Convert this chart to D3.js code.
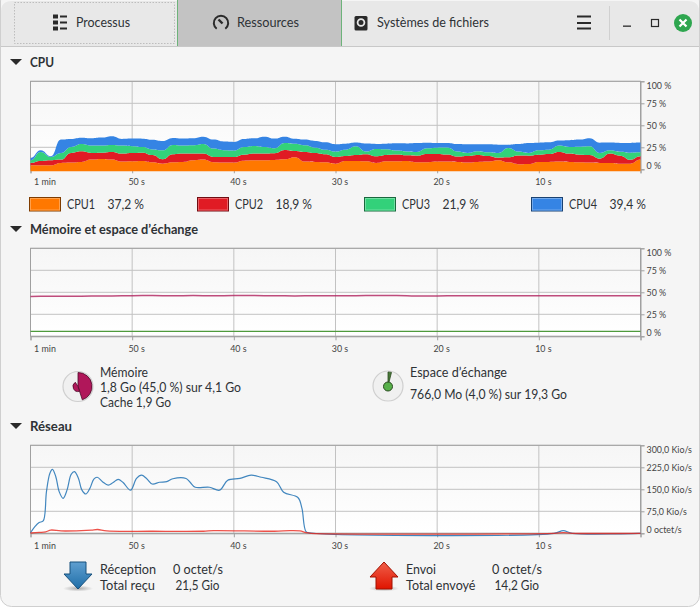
<!DOCTYPE html>
<html>
<head>
<meta charset="utf-8">
<script src="https://cdn.jsdelivr.net/npm/d3@7"></script>
<style>
html, body { margin: 0; padding: 0; background: #fff; }
svg { display: block; }
text { font-family: Lato, "Noto Sans", sans-serif; font-size: 13px; fill: #2e3236; }
.head { font-weight: 700; }
.tick text { font-size: 8.9px; fill: #444; }
</style>
</head>
<body>
<svg id="chart" width="700" height="607"></svg>
<script>
// seconds elapsed since the left edge, one CPU sample per second
var cpuTimes = d3.range(0, 61);
var cpuNames = ["CPU1", "CPU2", "CPU3", "CPU4"];
var cpuPercent = ["37,2 %", "18,9 %", "21,9 %", "39,4 %"];
var cpuColors = ["#ff7800", "#e01b24", "#33d17a", "#3584e4"];
var cpuBorders = ["#7f3c00", "#700d12", "#19683d", "#1a4272"];
var cpuInner = ["#ffa14d", "#ea6066", "#70dfa2", "#72a9ec"];

var cpu1 = [6.8,6.8,6.8,9.5,9.9,10.6,13.3,14.0,13.3,11.0,11.4,11.7,10.2,8.7,10.2,10.6,12.5,13.3,10.2,9.9,9.9,
  12.1,12.5,12.5,12.9,13.6,15.9,11.0,10.6,10.2,8.7,11.7,11.7,11.4,9.5,11.4,11.4,11.7,10.2,10.2,11.0,
  11.0,10.6,9.9,10.6,11.0,12.5,10.2,8.0,8.3,10.6,10.6,11.0,10.6,10.2,9.9,9.5,9.5,8.7,8.7,13.3];
var cpu2 = [2.7,4.9,5.7,3.8,11.0,12.1,7.6,7.2,8.7,9.1,9.5,9.5,8.3,4.9,9.1,9.5,7.6,6.8,6.1,6.4,6.4,
  6.8,7.6,7.6,7.6,10.6,7.2,11.0,10.2,9.1,7.6,5.7,6.8,8.0,7.6,7.2,7.6,6.4,7.6,9.5,8.7,
  8.0,6.1,7.6,8.0,6.4,3.0,5.7,9.9,9.5,8.3,9.1,11.0,9.5,8.7,8.7,4.9,10.6,9.1,4.5,3.8];
var cpu3 = [3.0,10.2,3.8,7.6,6.8,8.3,8.3,8.0,8.0,9.1,7.6,6.4,6.4,10.2,10.6,9.1,9.5,11.0,9.5,7.6,7.2,
  8.7,8.7,7.6,5.7,8.0,8.3,7.6,6.1,5.3,6.1,7.2,9.9,3.0,8.3,6.4,4.5,4.5,4.2,6.4,7.2,
  8.0,5.7,3.4,4.2,4.2,5.3,10.6,4.5,3.0,4.9,4.9,7.2,7.6,9.1,9.9,6.4,3.8,4.5,8.0,4.5];
var cpu4 = [2.7,1.9,0.8,15.2,9.1,7.2,8.3,9.1,9.9,7.6,8.7,9.5,11.0,10.6,8.0,8.0,8.0,8.3,10.2,9.9,9.9,
  9.1,8.7,11.7,11.0,7.2,5.7,6.4,7.6,8.3,8.3,6.8,4.2,9.1,5.7,6.4,8.3,9.1,10.2,6.4,5.3,
  5.3,8.7,9.9,8.0,9.1,9.5,3.8,8.7,11.4,8.7,8.3,5.7,7.6,8.0,9.1,11.7,8.7,9.9,11.0,11.0];

// memory and swap, %
var memTimes = d3.range(0, 61, 2);
var memValues = [45.3,45.5,45.6,45.7,45.9,46.2,46.3,46.1,46.3,46.0,46.3,46.4,46.0,45.9,46.0,46.1,
  46.2,46.3,46.3,45.9,45.9,46.0,46.0,46.0,46.1,46.1,46.0,46.0,46.1,46.0,46.0];
var swapTimes = [0, 60];
var swapValues = [5.6, 5.6];

// network, Kio/s
var rxTimes = [0,.43,.85,1.25,1.57,1.9,2.16,2.49,2.82,3.21,3.6,4,4.33,4.72,5.05,5.44,5.84,6.23,6.56,7.08,7.64,8.13,8.62,9.11,9.84,
  10.43,10.92,11.41,11.97,12.7,13.4,14,15.3,15.7,16.2,17.6,18.6,19.4,20.6,21.7,22.7,24.2,24.9,26.3,26.7,27.1,27.6,51.5,52.4,53.3,60];
var rxValues = [2,23,37,42,142,204,218,193,142,119,148,201,210,187,148,134,153,185,191,176,164,173,184,173,147,
  187,198,187,168,174,176,186,187,174,157,157,147,181,187,198,191,176,140,122,85,6,1,0,9,0,0];
var txTimes = [0,.85,1.5,2,3,5,6,6.6,7.5,12,17,18,24,25.5,26.5,27.1,27.6,51.5,52.4,53.3,60];
var txValues = [1,3,5,11,8,9,11,13,8,7,7,9,7,9,8,2,0,0,2,0,0];

var timeTicks = [60, 50, 40, 30, 20, 10, 0];
var timeLabels = ["1 min", "50 s", "40 s", "30 s", "20 s", "10 s", ""];
var pctTicks = [100, 75, 50, 25, 0];
var pctLabels = ["100 %", "75 %", "50 %", "25 %", "0 %"];
var netTicks = [300, 225, 150, 75, 0];
var netLabels = ["300,0 Kio/s", "225,0 Kio/s", "150,0 Kio/s", "75,0 Kio/s", "0 octet/s"];

var svg = d3.select("#chart");
var defs = svg.append("defs");

var grad = defs.append("linearGradient").attr("id", "plotBg").attr("x1", 0).attr("y1", 0).attr("x2", 0).attr("y2", 1);
grad.append("stop").attr("offset", "0%").attr("stop-color", "#f6f6f6");
grad.append("stop").attr("offset", "100%").attr("stop-color", "#ffffff");

var blueGrad = defs.append("linearGradient").attr("id", "blueArrow").attr("x1", 0).attr("y1", 0).attr("x2", 0).attr("y2", 1);
blueGrad.append("stop").attr("offset", "0%").attr("stop-color", "#5f9fd0");
blueGrad.append("stop").attr("offset", "100%").attr("stop-color", "#1f6ea8");
var redGrad = defs.append("linearGradient").attr("id", "redArrow").attr("x1", 0).attr("y1", 0).attr("x2", 0).attr("y2", 1);
redGrad.append("stop").attr("offset", "0%").attr("stop-color", "#f0604a");
redGrad.append("stop").attr("offset", "100%").attr("stop-color", "#e01400");
var shadow = defs.append("radialGradient").attr("id", "arrowShadow");
shadow.append("stop").attr("offset", "0%").attr("stop-color", "#888").attr("stop-opacity", .7);
shadow.append("stop").attr("offset", "100%").attr("stop-color", "#888").attr("stop-opacity", 0);

// text squeezed to the width it has in the picture (the UI font is not installed)
function label(t, px, py, w, cls) {
  var el = svg.append("text").attr("x", px).attr("y", py).text(t);
  if (w) el.attr("textLength", w).attr("lengthAdjust", "spacingAndGlyphs");
  if (cls) el.attr("class", cls);
  return el;
}

// window
svg.append("rect").attr("x", .5).attr("y", -10).attr("width", 699).attr("height", 616.5).attr("rx", 11)
  .attr("fill", "#f5f5f5").attr("stroke", "#cfcfcf");
defs.append("clipPath").attr("id", "winClip").append("rect").attr("x", 1).attr("y", 0).attr("width", 698).attr("height", 47);

var header = svg.append("g").attr("clip-path", "url(#winClip)");
header.append("path").attr("d", "M1,47V12Q1,1 12,1H688Q699,1 699,12V47Z").attr("fill", "#e8e8e8");
header.append("rect").attr("x", 177.5).attr("y", 0).attr("width", 164).attr("height", 46).attr("fill", "#c3c3c3");
header.selectAll("line.tabedge").data([177.5, 341.5]).enter().append("line")
  .attr("x1", function(d) { return d; }).attr("x2", function(d) { return d; })
  .attr("y1", 0).attr("y2", 46).attr("stroke", "#6db37a");
svg.append("line").attr("x1", 1).attr("x2", 699).attr("y1", 46.5).attr("y2", 46.5).attr("stroke", "#c8c8c8");
svg.append("rect").attr("x", 14.5).attr("y", 2.5).attr("width", 160).attr("height", 41)
  .attr("fill", "none").attr("stroke", "#bdbdbd").attr("stroke-dasharray", "1.5 1.5");

label("Processus", 76, 27, 54);
label("Ressources", 237, 27, 62);
label("Systèmes de fichiers", 377, 27, 112);

// header icons
var ink = "#2a2a2a";
[16.5, 22.5, 28.5].forEach(function(r) {
  svg.append("rect").attr("x", 53).attr("y", r - 2).attr("width", 5).attr("height", 4).attr("fill", ink);
  svg.append("rect").attr("x", 60).attr("y", r - 1).attr("width", 7).attr("height", 2).attr("fill", ink);
});
svg.append("path").attr("d", d3.arc()({innerRadius: 6.2, outerRadius: 8.2, startAngle: -2.5, endAngle: 2.5}))
  .attr("transform", "translate(221,23)").attr("fill", ink);
svg.append("path").attr("d", "M218.5,19.5L222.5,23.5").attr("stroke", ink).attr("stroke-width", 2.4);
svg.append("rect").attr("x", 354.5).attr("y", 16).attr("width", 13).attr("height", 14.5).attr("rx", 1.5)
  .attr("fill", ink);
svg.append("circle").attr("cx", 361).attr("cy", 22.5).attr("r", 3.4).attr("fill", "none").attr("stroke", "#e8e8e8").attr("stroke-width", 1.8);
[16.5, 23, 28.5].forEach(function(y) {
  svg.append("rect").attr("x", 577).attr("y", y - 1).attr("width", 14).attr("height", 2).attr("fill", ink);
});
svg.append("line").attr("x1", 609.5).attr("x2", 609.5).attr("y1", 6).attr("y2", 40).attr("stroke", "#d0d0d0");
svg.append("rect").attr("x", 623).attr("y", 25.5).attr("width", 8).attr("height", 1.3).attr("fill", ink);
svg.append("rect").attr("x", 651.5).attr("y", 19.5).attr("width", 7).attr("height", 7).attr("fill", "none").attr("stroke", ink).attr("stroke-width", 1.2);
svg.append("circle").attr("cx", 683).attr("cy", 23).attr("r", 9).attr("fill", "#2ea64f");
svg.append("path").attr("d", "M679.5,19.5L686.5,26.5M686.5,19.5L679.5,26.5").attr("stroke", "#fff").attr("stroke-width", 2.2);

// section heads
[["CPU", 62, 24], ["Mémoire et espace d’échange", 229, 168], ["Réseau", 426, 42]].forEach(function(h) {
  svg.append("path").attr("d", "M10," + (h[1] - 3) + "h12l-6,6z").attr("fill", "#2a2a2a");
  label(h[0], 30, h[1] + 4.5, h[2], "head");
});

var x = d3.scaleLinear().domain([60, 0]).range([30.5, 640.5]);

// one plot frame: background, grid, axes
function addPlot(top, domainMax, ticks, labels) {
  var y = d3.scaleLinear().domain([0, domainMax]).range([top + 88, top]);
  var g = svg.append("g");
  g.append("rect").attr("x", 30.5).attr("y", top).attr("width", 610).attr("height", 88).attr("fill", "url(#plotBg)");

  var grid = g.append("g").attr("stroke", "#c2c2c2");
  grid.selectAll("line.h").data(ticks).enter().append("line")
    .attr("x1", 30.5).attr("x2", 640.5)
    .attr("y1", function(d) { return y(d); }).attr("y2", function(d) { return y(d); });
  grid.selectAll("line.v").data(timeTicks).enter().append("line")
    .attr("x1", function(d) { return x(d); }).attr("x2", function(d) { return x(d); })
    .attr("y1", top).attr("y2", top + 88);

  var bottom = g.append("g").attr("transform", "translate(0," + (top + 88) + ")")
    .call(d3.axisBottom(x).tickValues(timeTicks).tickSize(4).tickPadding(5)
      .tickFormat(function(d, i) { return timeLabels[i]; }));
  bottom.selectAll("text").attr("dx", function(d) { return d === 60 ? 14 : 4; });

  var right = g.append("g").attr("transform", "translate(640.5,0)")
    .call(d3.axisRight(y).tickValues(ticks).tickSize(4).tickPadding(2)
      .tickFormat(function(d, i) { return labels[i]; }));
  right.selectAll("text").attr("dy", function(d, i) {
    if (i === 0) return "0.85em";
    if (i === ticks.length - 1) return "-0.1em";
    return "0.32em";
  });

  g.selectAll(".domain").attr("stroke", "#a0a0a0");
  g.selectAll(".tick line").attr("stroke", "#a0a0a0");
  g.append("rect").attr("x", 30.5).attr("y", top).attr("width", 610).attr("height", 88)
    .attr("fill", "none").attr("stroke", "#a0a0a0");
  return y;
}

// CPU
var yCpu = addPlot(81.3, 100, pctTicks, pctLabels);
var cpuRows = cpuTimes.map(function(t, i) {
  return {t: t, CPU1: cpu1[i], CPU2: cpu2[i], CPU3: cpu3[i], CPU4: cpu4[i]};
});
var stacked = d3.stack().keys(cpuNames)(cpuRows);
// the filled areas sit a little under the zero line in the picture
var cpuArea = d3.area().curve(d3.curveBumpX)
  .x(function(d) { return x(60 - d.data.t); })
  .y0(function(d) { return yCpu(d[0]) + 2; })
  .y1(function(d) { return yCpu(d[1]) + 2; });
svg.append("g").selectAll("path").data(stacked).enter().append("path")
  .attr("d", cpuArea)
  .attr("fill", function(d, i) { return cpuColors[i]; });

// CPU legend
var legendX = [29.5, 197.5, 364.5, 531.5];
var valueX = [107.5, 275.5, 442.5, 609.5];
cpuNames.forEach(function(name, i) {
  svg.append("rect").attr("x", legendX[i]).attr("y", 197.5).attr("width", 31).attr("height", 13.5)
    .attr("fill", cpuColors[i]).attr("stroke", cpuBorders[i]);
  svg.append("rect").attr("x", legendX[i] + 1).attr("y", 198.5).attr("width", 29).attr("height", 11.5)
    .attr("fill", "none").attr("stroke", cpuInner[i]);
  label(name, legendX[i] + 37.5, 209, 28);
  label(cpuPercent[i], valueX[i], 209, 36.5);
});

// memory
var yMem = addPlot(248.3, 100, pctTicks, pctLabels);
var memLine = d3.line().curve(d3.curveBumpX)
  .x(function(d) { return x(60 - d[0]); })
  .y(function(d) { return yMem(d[1]); });
svg.append("path").attr("d", memLine(d3.zip(memTimes, memValues)))
  .attr("fill", "none").attr("stroke", "#b0205c").attr("stroke-width", 1.5).attr("opacity", .8);
svg.append("path").attr("d", memLine(d3.zip(swapTimes, swapValues)))
  .attr("fill", "none").attr("stroke", "#4e9a3c").attr("stroke-width", 1.3);

// pie icons
function addPie(cx, cy) {
  svg.append("circle").attr("cx", cx).attr("cy", cy).attr("r", 15).attr("fill", "#f0f0f0").attr("stroke", "#cfcfcf").attr("stroke-width", 1.2);
}
var tau = 2 * Math.PI;
addPie(78, 386.5);
svg.append("path").attr("transform", "translate(78,386.5)")
  .attr("d", d3.arc()({innerRadius: 0, outerRadius: 14, startAngle: 0, endAngle: .45 * tau}))
  .attr("fill", "#b0175a").attr("stroke", "#4d0a28").attr("stroke-width", .8);
svg.append("path").attr("transform", "translate(78,386.5)")
  .attr("d", d3.arc()({innerRadius: 0, outerRadius: 5, startAngle: .45 * tau, endAngle: .91 * tau}))
  .attr("fill", "#b0175a").attr("stroke", "#4d0a28").attr("stroke-width", .8);
addPie(388, 386);
svg.append("path").attr("transform", "translate(388,386)")
  .attr("d", d3.arc()({innerRadius: 0, outerRadius: 14, startAngle: 0, endAngle: .04 * tau}))
  .attr("fill", "#4a7a3a").attr("stroke", "#2a4a20").attr("stroke-width", .8);
svg.append("circle").attr("cx", 388).attr("cy", 386.5).attr("r", 4.5)
  .attr("fill", "#57b04a").attr("stroke", "#2a4a20").attr("stroke-width", 1);

label("Mémoire", 100, 376.5, 48);
label("1,8 Go (45,0 %) sur 4,1 Go", 100, 391.5, 141);
label("Cache 1,9 Go", 100, 406.5, 71);
label("Espace d’échange", 410, 376.5, 97);
label("766,0 Mo (4,0 %) sur 19,3 Go", 410, 398.5, 157);

// network
var yNet = addPlot(445.3, 300, netTicks, netLabels);
var netLine = d3.line().curve(d3.curveCatmullRom)
  .x(function(d) { return x(60 - d[0]); })
  .y(function(d) { return yNet(d[1]); });
svg.append("path").attr("d", netLine(d3.zip(rxTimes, rxValues)))
  .attr("fill", "none").attr("stroke", "#2d7ab8").attr("stroke-width", 1.2).attr("opacity", .9);
svg.append("path").attr("d", netLine(d3.zip(txTimes, txValues)))
  .attr("fill", "none").attr("stroke", "#e8261c").attr("stroke-width", 1.3).attr("opacity", .8);

// arrows
function addArrow(cx, down, fill, stroke) {
  svg.append("ellipse").attr("cx", cx).attr("cy", 588.5).attr("rx", 15).attr("ry", 3).attr("fill", "url(#arrowShadow)");
  var d = down
    ? "M-8,-14H8V-2H14L0,13L-14,-2H-8Z"
    : "M0,-14L14,1H8V13H-8V1H-14Z";
  svg.append("path").attr("transform", "translate(" + cx + ",576)").attr("d", d)
    .attr("fill", fill).attr("stroke", stroke).attr("stroke-width", 1);
}
addArrow(78, true, "url(#blueArrow)", "#17507c");
addArrow(384, false, "url(#redArrow)", "#a01000");

label("Réception", 100, 573.5, 56);
label("0 octet/s", 173, 573.5, 50);
label("Total reçu", 100, 589.5, 55);
label("21,5 Gio", 175.5, 589.5, 44);
label("Envoi", 406, 573.5, 30);
label("0 octet/s", 492, 573.5, 50);
label("Total envoyé", 406, 589.5, 69.5);
label("14,2 Gio", 494.5, 589.5, 44.5);
</script>
</body>
</html>
